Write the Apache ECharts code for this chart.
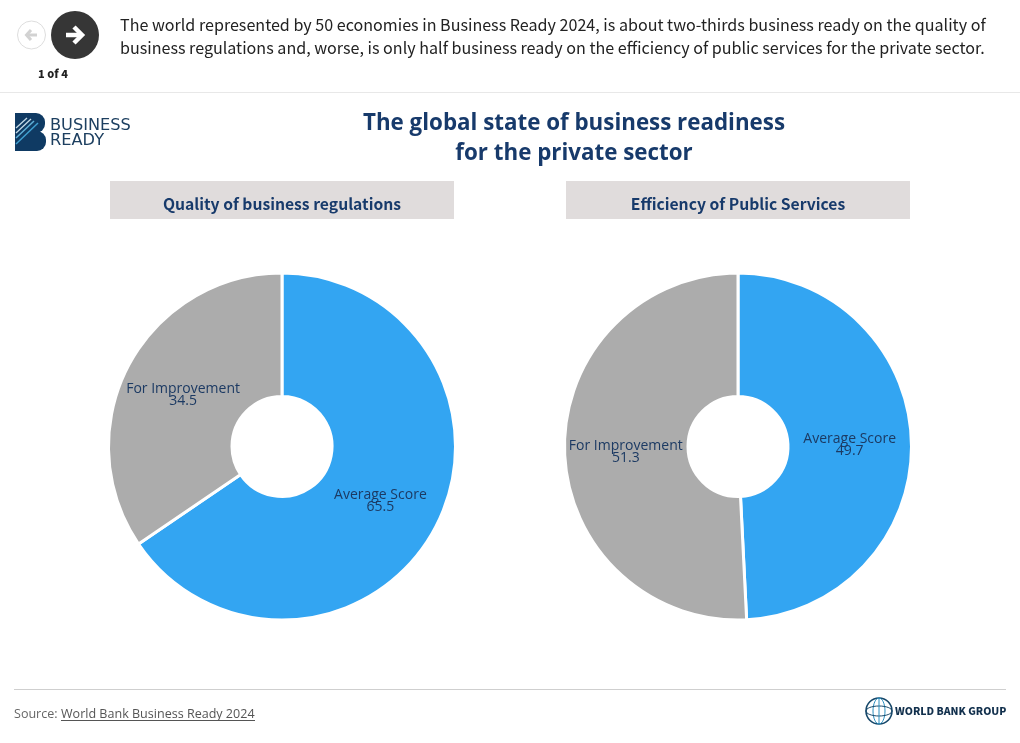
<!DOCTYPE html>
<html>
<head>
<meta charset="utf-8">
<title>Business Ready</title>
<script src="https://cdn.jsdelivr.net/npm/echarts@6/dist/echarts.min.js"></script>
<style>
html, body { margin: 0; padding: 0; background: #fff; }
#main { width: 1020px; height: 743px; }
</style>
</head>
<body>
<div id="main"></div>
<script>
// chart data
const sliceNames = ["Average Score", "For Improvement"];
const regulationValues = [65.5, 34.5];
const serviceValues = [49.7, 51.3];
const panelTitles = ["Quality of business regulations", "Efficiency of Public Services"];
const introLines = [
  "The world represented by 50 economies in Business Ready 2024, is about two-thirds business ready on the quality of",
  "business regulations and, worse, is only half business ready on the efficiency of public services for the private sector."
];
const headingLines = ["The global state of business readiness", "for the private sector"];
const pagerText = "1 of 4";
const sourceLabel = "Source:";
const sourceLink = "World Bank Business Ready 2024";

const sansFont = '"Noto Sans CJK SC", "Noto Sans", sans-serif';
const labelFont = '"Open Sans", sans-serif';
const navy = "#173a6b";

function makePie(values, cx) {
  return {
    type: "pie",
    center: [cx, 446.5],
    radius: [50, 173.5],
    startAngle: 90,
    clockwise: true,
    silent: true,
    animation: false,
    itemStyle: { borderColor: "#fff", borderWidth: 3 },
    label: {
      show: true,
      position: "inside",
      formatter: "{b}\n{c}",
      fontFamily: labelFont,
      fontSize: 14,
      lineHeight: 12,
      color: "#1c3a63"
    },
    labelLine: { show: false },
    data: sliceNames.map((name, i) => ({
      name: name,
      value: values[i],
      itemStyle: { color: i === 0 ? "#33a5f2" : "#acacac" },
      // the reference sets its labels a little closer to the hole
      label: { offset: i === 0 ? [-3, 1] : [2.5, 2.5] }
    }))
  };
}

function text(x, y, str, opts) {
  return {
    type: "text",
    x: x,
    y: y,
    silent: true,
    style: Object.assign({ text: str, fontFamily: sansFont, fill: "#222", textVerticalAlign: "middle" }, opts)
  };
}

function hLine(x1, x2, y, color) {
  return { type: "line", silent: true, shape: { x1: x1, y1: y, x2: x2, y2: y }, style: { stroke: color, lineWidth: 1 } };
}

function stripe(x1, y1, x2, y2, color, width) {
  return { type: "line", silent: true, shape: { x1: x1, y1: y1, x2: x2, y2: y2 }, style: { stroke: color, lineWidth: width } };
}

function panelHeader(x, str) {
  return [
    { type: "rect", silent: true, shape: { x: x, y: 181, width: 344, height: 38 }, style: { fill: "#e0dcdc" } },
    text(x + 172, 204.5, str, { fontSize: 15.7, fontWeight: 700, fill: navy, textAlign: "center" })
  ];
}

// pager buttons
const pager = [
  { type: "circle", silent: true, shape: { cx: 31.5, cy: 35, r: 14 }, style: { fill: "#fff", stroke: "#ddd", lineWidth: 1 } },
  { type: "polyline", silent: true, shape: { points: [[31, 30], [26.5, 35], [31, 40]] }, style: { stroke: "#d2d2d2", lineWidth: 3, fill: null } },
  { type: "line", silent: true, shape: { x1: 27, y1: 35, x2: 37, y2: 35 }, style: { stroke: "#d2d2d2", lineWidth: 3 } },
  { type: "circle", silent: true, shape: { cx: 75, cy: 35, r: 24 }, style: { fill: "#363636" } },
  { type: "polyline", silent: true, shape: { points: [[74, 27], [82, 35], [74, 43]] }, style: { stroke: "#fff", lineWidth: 4.5, fill: null } },
  { type: "line", silent: true, shape: { x1: 66, y1: 35, x2: 81, y2: 35 }, style: { stroke: "#fff", lineWidth: 4.5 } },
  text(53, 74, pagerText, { fontSize: 11, fontWeight: 900, fill: "#222", textAlign: "center" })
];

// business ready logo, hand drawn
const brandLogo = [
  { type: "rect", silent: true, shape: { x: 15, y: 113, width: 30, height: 20, r: [0, 9, 9, 0] }, style: { fill: "#0f3a63" } },
  { type: "rect", silent: true, shape: { x: 15, y: 131, width: 31, height: 20, r: [0, 9, 9, 0] }, style: { fill: "#0f3a63" } },
  stripe(16, 128, 27, 118, "#c5dbe8", 1.3),
  stripe(16, 133, 31, 119, "#c5dbe8", 1.3),
  stripe(16, 138, 34, 121, "#5fb0d8", 1.5),
  stripe(16, 144, 38, 123, "#3f9fd0", 1.5),
  text(50, 125.5, "BUSINESS", { fontFamily: '"DejaVu Sans", sans-serif', fontSize: 16.2, fill: "#1d3f60" }),
  text(50, 141, "READY", { fontFamily: '"DejaVu Sans", sans-serif', fontSize: 16.2, fill: "#1d3f60" })
];

// world bank globe, hand drawn
const bankLogo = [
  { type: "circle", silent: true, shape: { cx: 879, cy: 711, r: 13 }, style: { fill: "#fff", stroke: "#17486a", lineWidth: 1.6 } },
  { type: "ellipse", silent: true, shape: { cx: 879, cy: 711, rx: 6, ry: 13 }, style: { fill: null, stroke: "#2a8fc0", lineWidth: 1 } },
  { type: "ellipse", silent: true, shape: { cx: 879, cy: 711, rx: 13, ry: 5 }, style: { fill: null, stroke: "#17486a", lineWidth: 1 } },
  { type: "line", silent: true, shape: { x1: 879, y1: 698, x2: 879, y2: 724 }, style: { stroke: "#2a8fc0", lineWidth: 1 } },
  text(895, 711, "WORLD BANK GROUP", { fontFamily: sansFont, fontSize: 10.4, fontWeight: 900, fill: "#12304d" })
];

const footer = [
  hLine(14, 1006, 689.5, "#cfcfcf"),
  text(14, 714, sourceLabel, { fontFamily: labelFont, fontSize: 12.55, fill: "#666" }),
  text(61, 714, sourceLink, { fontFamily: labelFont, fontSize: 12.55, fill: "#555" }),
  hLine(61, 255, 720.5, "#555")
];

const chrome = [].concat(
  pager,
  [
    text(120, 25, introLines[0], { fontSize: 16.1, fill: "#222" }),
    text(120, 48, introLines[1], { fontSize: 16.1, fill: "#222" }),
    hLine(0, 1020, 92.5, "#e8e8e8")
  ],
  brandLogo,
  [
    text(574, 124, headingLines[0], { fontFamily: labelFont, fontSize: 22.35, fontWeight: 700, fill: navy, textAlign: "center" }),
    text(574, 154, headingLines[1], { fontFamily: labelFont, fontSize: 22.35, fontWeight: 700, fill: navy, textAlign: "center" })
  ],
  panelHeader(110, panelTitles[0]),
  panelHeader(566, panelTitles[1]),
  footer,
  bankLogo
);

let myChart = echarts.init(document.getElementById("main"), null, { renderer: "canvas" });
myChart.setOption({
  animation: false,
  series: [makePie(regulationValues, 282), makePie(serviceValues, 738)],
  graphic: { elements: chrome }
});
</script>
</body>
</html>
